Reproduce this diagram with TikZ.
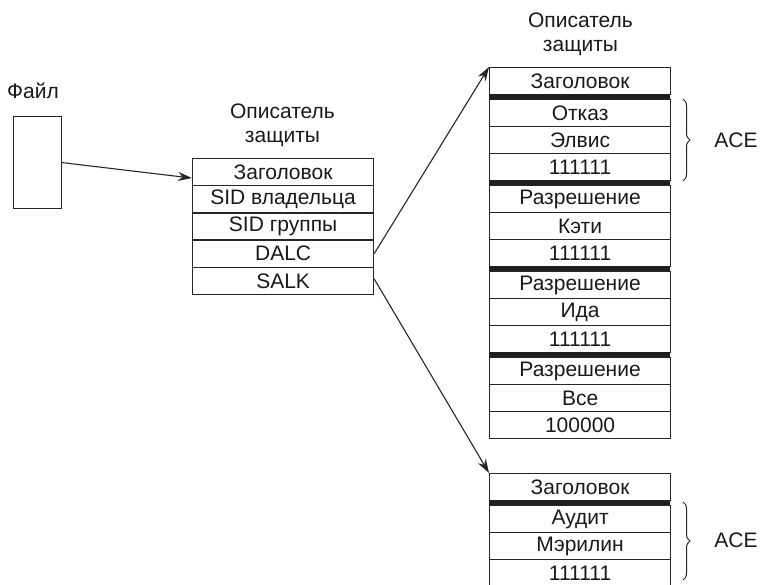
\documentclass[tikz,border=0pt]{standalone}
\usepackage{fontspec}
\setmainfont{Liberation Sans}
\usetikzlibrary{arrows.meta,decorations.pathreplacing}
\begin{document}
\begin{tikzpicture}[x=1pt,y=-1pt,
  txt/.style={font=\fontsize{21}{24}\selectfont, text=black!90, inner sep=0pt},
  cell/.style={txt, draw=black!85, line width=1.2pt, minimum width=181pt, minimum height=27pt, anchor=north west},
  bar/.style={fill=black!88},
  arr/.style={draw=black!85, line width=1.1pt, -{Stealth[length=14pt,width=9pt]}},
  brc/.style={draw=black!85, line width=1pt, decorate, decoration={brace, amplitude=7pt}},
  lbl/.style={txt, align=center}
]
\useasboundingbox (0,0) rectangle (760,584);
% File
\node[txt, anchor=west] (flabel) at (7,91) {Файл};
\node[draw=black!85, line width=1.2pt, minimum width=48pt, minimum height=92pt, inner sep=0pt, anchor=north west] (file) at (13,116) {};
% Middle descriptor
\node[lbl] (mt) at (282.5,125) {Описатель\\защиты};
\node[cell] (m1) at (192,158) {Заголовок};
\node[cell] (m2) at (192,185.2) {SID владельца};
\node[cell] (m3) at (192,212.4) {SID группы};
\node[cell] (m4) at (192,239.6) {DALC};
\node[cell] (m5) at (192,266.8) {SALK};
% Right descriptor (DACL)
\node[lbl] (rt) at (580.5,34) {Описатель\\защиты};
\node[cell] (r0) at (489,67) {Заголовок};
\fill[bar] (489,94) rectangle (670,99.5);
\node[cell] (r1) at (489,99) {Отказ};
\node[cell] (r2) at (489,126) {Элвис};
\node[cell] (r3) at (489,153) {111111};
\fill[bar] (489,180) rectangle (670,185.5);
\node[cell] (r4) at (489,185) {Разрешение};
\node[cell] (r5) at (489,212) {Кэти};
\node[cell] (r6) at (489,239) {111111};
\fill[bar] (489,266) rectangle (670,271.5);
\node[cell] (r7) at (489,271) {Разрешение};
\node[cell] (r8) at (489,298) {Ида};
\node[cell] (r9) at (489,325) {111111};
\fill[bar] (489,352) rectangle (670,357.5);
\node[cell] (r10) at (489,357) {Разрешение};
\node[cell] (r11) at (489,384) {Все};
\node[cell] (r12) at (489,411) {100000};
% Lower descriptor (SACL)
\node[cell] (s0) at (489,473) {Заголовок};
\fill[bar] (489,500) rectangle (670,505.5);
\node[cell] (s1) at (489,505) {Аудит};
\node[cell] (s2) at (489,532) {Мэрилин};
\node[cell] (s3) at (489,559) {111111};
% Braces
\coordinate (b1a) at (683,99);
\coordinate (b1b) at (683,181);
\draw[brc] (b1a) -- (b1b);
\node[txt] (ace1) at (736,140) {ACE};
\coordinate (b2a) at (683,502);
\coordinate (b2b) at (683,580);
\draw[brc] (b2a) -- (b2b);
\node[txt] (ace2) at (736,540) {ACE};
% Arrows
\coordinate (fin) at ([yshift=-6pt]m1.west);
\draw[arr] (file.east) -- (fin);
\draw[arr] (m4.east) -- (r0.north west);
\draw[arr] ([yshift=2pt]m5.east) -- (s0.north west);
\end{tikzpicture}
\end{document}
